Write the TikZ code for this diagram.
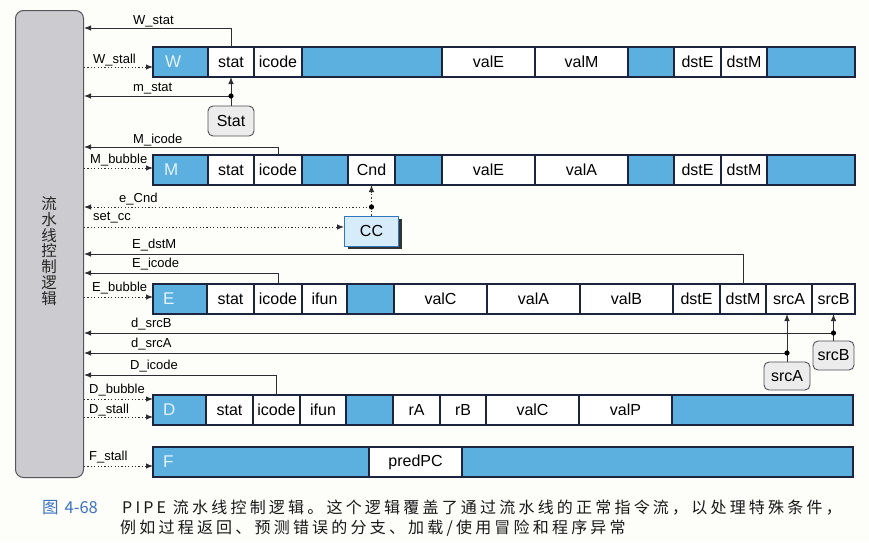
\documentclass[tikz,border=0pt]{standalone}
\usepackage{fontspec}
\setmainfont{Liberation Sans}
\newfontfamily\cjk{Noto Sans CJK SC}
\newfontfamily\cjkcap[LetterSpace=20]{Noto Sans CJK SC}
\usetikzlibrary{arrows.meta,shadows}

\definecolor{paper}{RGB}{253,253,250}
\definecolor{regblue}{RGB}{92,176,224}
\definecolor{regline}{RGB}{28,36,62}
\definecolor{tagwhite}{RGB}{228,243,251}
\definecolor{sigline}{RGB}{45,45,50}
\definecolor{ctlfill}{RGB}{204,203,207}
\definecolor{ctlline}{RGB}{85,85,90}
\definecolor{boxfill}{RGB}{236,236,236}
\definecolor{boxline}{RGB}{80,80,85}
\definecolor{ccfill}{RGB}{214,236,250}
\definecolor{ccline}{RGB}{50,118,190}
\definecolor{capblue}{RGB}{60,115,195}
\definecolor{captext}{RGB}{25,25,25}

% one field of a pipeline register: name, left x, right x, top y, style, text
\newcommand{\regf}[6]{\node[#5, minimum width={#3-#2}] (#1) at (#2,#4) {#6};}

\tikzset{
  reg/.style={draw=regline, line width=1.1pt, inner sep=0pt, outer sep=0pt,
    minimum height=30pt, anchor=north west, font=\fontsize{16}{18}\selectfont},
  blk/.style={reg, fill=regblue},
  fld/.style={reg, fill=white},
  tag/.style={anchor=west, inner sep=0pt, text=tagwhite, font=\fontsize{17}{18}\selectfont},
  sig/.style={draw=sigline, line width=1pt},
  dsig/.style={sig, dash pattern=on 1.2pt off 2.2pt},
  arr/.style={-{Latex[length=7pt,width=5.5pt]}},
  rarr/.style={{Latex[length=7pt,width=5.5pt]}-},
  lbl/.style={anchor=base west, inner sep=0pt, text=black, font=\fontsize{13}{14}\selectfont},
  srcbox/.style={draw=boxline, fill=boxfill, line width=0.9pt, rounded corners=5pt,
    inner sep=0pt, font=\fontsize{16}{18}\selectfont},
  ccbox/.style={draw=ccline, fill=ccfill, line width=0.9pt, inner sep=0pt,
    font=\fontsize{16}{18}\selectfont,
    drop shadow={shadow xshift=3pt, shadow yshift=-3pt, fill=black!80, opacity=1}},
  joint/.style={fill=black},
  captxt/.style={anchor=base west, inner sep=0pt, text=captext, font=\cjkcap\fontsize{16}{18}\selectfont},
}

\begin{document}
\begin{tikzpicture}[x=1pt, y=-1pt]
\fill[paper] (0,0) rectangle (869,542);
\useasboundingbox (0,0) rectangle (869,542);

% pipeline control logic block
\node[draw=ctlline, fill=ctlfill, line width=1pt, rounded corners=8pt,
  minimum width=68pt, minimum height=467pt, anchor=north west, inner sep=0pt] (ctl) at (15,10) {};
\node[align=center, inner sep=0pt, text=black!85, font=\cjk\fontsize{15.5}{15.8}\selectfont] (ctltext) at (49,251)
  {流\\水\\线\\控\\制\\逻\\辑};

% W register
\regf{Wl}{153}{208}{47}{blk}{}
\regf{Wstat}{208}{254}{47}{fld}{stat}
\regf{Wicode}{254}{302}{47}{fld}{icode}
\regf{Wb1}{302}{442}{47}{blk}{}
\regf{WvalE}{442}{535}{47}{fld}{valE}
\regf{WvalM}{535}{628}{47}{fld}{valM}
\regf{Wb2}{628}{674}{47}{blk}{}
\regf{WdstE}{674}{721}{47}{fld}{dstE}
\regf{WdstM}{721}{767}{47}{fld}{dstM}
\regf{Wb3}{767}{855}{47}{blk}{}
\node[tag] (Wtag) at (165,62) {W};

% M register
\regf{Ml}{153}{208}{155}{blk}{}
\regf{Mstat}{208}{254}{155}{fld}{stat}
\regf{Micode}{254}{302}{155}{fld}{icode}
\regf{Mb1}{302}{348}{155}{blk}{}
\regf{MCnd}{348}{395}{155}{fld}{Cnd}
\regf{Mb2}{395}{442}{155}{blk}{}
\regf{MvalE}{442}{535}{155}{fld}{valE}
\regf{MvalA}{535}{628}{155}{fld}{valA}
\regf{Mb3}{628}{674}{155}{blk}{}
\regf{MdstE}{674}{721}{155}{fld}{dstE}
\regf{MdstM}{721}{767}{155}{fld}{dstM}
\regf{Mb4}{767}{855}{155}{blk}{}
\node[tag] (Mtag) at (164,170) {M};

% E register
\regf{El}{153}{207}{284}{blk}{}
\regf{Estat}{207}{254}{284}{fld}{stat}
\regf{Eicode}{254}{302}{284}{fld}{icode}
\regf{Eifun}{302}{347}{284}{fld}{ifun}
\regf{Eb1}{347}{394}{284}{blk}{}
\regf{EvalC}{394}{487}{284}{fld}{valC}
\regf{EvalA}{487}{580}{284}{fld}{valA}
\regf{EvalB}{580}{673}{284}{fld}{valB}
\regf{EdstE}{673}{720}{284}{fld}{dstE}
\regf{EdstM}{720}{766}{284}{fld}{dstM}
\regf{EsrcA}{766}{812}{284}{fld}{srcA}
\regf{EsrcB}{812}{855}{284}{fld}{srcB}
\node[tag] (Etag) at (163,299) {E};

% D register
\regf{Dl}{153}{206}{395}{blk}{}
\regf{Dstat}{206}{253}{395}{fld}{stat}
\regf{Dicode}{253}{300}{395}{fld}{icode}
\regf{Difun}{300}{346}{395}{fld}{ifun}
\regf{Db1}{346}{393}{395}{blk}{}
\regf{DrA}{393}{440}{395}{fld}{rA}
\regf{DrB}{440}{486}{395}{fld}{rB}
\regf{DvalC}{486}{579}{395}{fld}{valC}
\regf{DvalP}{579}{672}{395}{fld}{valP}
\regf{Db2}{672}{853}{395}{blk}{}
\node[tag] (Dtag) at (163,410) {D};

% F register
\regf{Fl}{153}{369}{447}{blk}{}
\regf{FpredPC}{369}{462}{447}{fld}{predPC}
\regf{Fb}{462}{853}{447}{blk}{}
\node[tag] (Ftag) at (163,462) {F};

% status, condition-code and source-register blocks
\node[srcbox, minimum width=46pt, minimum height=30pt] (Statbox) at (231,121) {Stat};
\node[ccbox, minimum width=54pt, minimum height=30pt] (CC) at (371.5,231) {CC};
\node[srcbox, minimum width=41pt, minimum height=29pt] (srcBbox) at (833.5,355.5) {srcB};
\node[srcbox, minimum width=46pt, minimum height=28pt] (srcAbox) at (787,376) {srcA};

% junctions and signal levels
\coordinate (dStat) at (231,96);
\coordinate (dCnd) at (371.5,207);
\coordinate (dSrcB) at (833.5,333);
\coordinate (dSrcA) at (787,353);
\coordinate (yWstat) at (100,28);
\coordinate (yWstall) at (100,67);
\coordinate (yMicode) at (100,147);
\coordinate (yMbubble) at (100,168);
\coordinate (ySetcc) at (100,227);
\coordinate (yEdstM) at (100,254);
\coordinate (yEicode) at (100,273);
\coordinate (yEbubble) at (100,297);
\coordinate (yDicode) at (100,375);
\coordinate (yDbubble) at (100,399);
\coordinate (yDstall) at (100,417);
\coordinate (yFstall) at (100,466);

% W stage signals
\draw[sig, rarr] (ctl.east |- yWstat) -| (Wstat.north);
\draw[dsig, arr] (ctl.east |- yWstall) -- (Wl.west |- yWstall);
\draw[sig, arr] (Statbox.north) -- (Wstat.south);
\draw[sig, rarr] (ctl.east |- dStat) -- (dStat);
\fill[joint] (dStat) circle (2.6);

% M stage signals
\draw[sig, rarr] (ctl.east |- yMicode) -| (Micode.north);
\draw[dsig, arr] (ctl.east |- yMbubble) -- (Ml.west |- yMbubble);
\draw[dsig, arr] (CC.north) -- (MCnd.south);
\draw[dsig, rarr] (ctl.east |- dCnd) -- (dCnd);
\fill[joint] (dCnd) circle (2.6);
\draw[dsig, arr] (ctl.east |- ySetcc) -- (CC.west |- ySetcc);

% E stage signals
\draw[sig, rarr] (ctl.east |- yEdstM) -| (EdstM.north);
\draw[sig, rarr] (ctl.east |- yEicode) -| (Eicode.north);
\draw[dsig, arr] (ctl.east |- yEbubble) -- (El.west |- yEbubble);
\draw[sig, arr] (srcBbox.north) -- (EsrcB.south);
\draw[sig, rarr] (ctl.east |- dSrcB) -- (dSrcB);
\fill[joint] (dSrcB) circle (2.6);
\draw[sig, arr] (srcAbox.north) -- (srcAbox.north |- EsrcA.south);
\draw[sig, rarr] (ctl.east |- dSrcA) -- (dSrcA);
\fill[joint] (dSrcA) circle (2.6);

% D and F stage signals
\draw[sig, rarr] (ctl.east |- yDicode) -| (Dicode.north);
\draw[dsig, arr] (ctl.east |- yDbubble) -- (Dl.west |- yDbubble);
\draw[dsig, arr] (ctl.east |- yDstall) -- (Dl.west |- yDstall);
\draw[dsig, arr] (ctl.east |- yFstall) -- (Fl.west |- yFstall);

% signal names
\node[lbl] (tWstat) at (133,24) {W\_stat};
\node[lbl] (tWstall) at (93,63) {W\_stall};
\node[lbl] (tmstat) at (133,91) {m\_stat};
\node[lbl] (tMicode) at (133,143) {M\_icode};
\node[lbl] (tMbubble) at (90,163) {M\_bubble};
\node[lbl] (teCnd) at (119,202) {e\_Cnd};
\node[lbl] (tsetcc) at (93,220) {set\_cc};
\node[lbl] (tEdstM) at (132,248) {E\_dstM};
\node[lbl] (tEicode) at (132,267) {E\_icode};
\node[lbl] (tEbubble) at (92,291) {E\_bubble};
\node[lbl] (tdsrcB) at (131,327) {d\_srcB};
\node[lbl] (tdsrcA) at (131,347) {d\_srcA};
\node[lbl] (tDicode) at (130,369) {D\_icode};
\node[lbl] (tDbubble) at (89,393) {D\_bubble};
\node[lbl] (tDstall) at (89,413) {D\_stall};
\node[lbl] (tFstall) at (89,460) {F\_stall};

% caption
\node[anchor=base west, inner sep=0pt, text=capblue, font=\cjk\fontsize{16.5}{18}\selectfont] (capnum) at (42,513)
  {图\hspace{6pt}4-68};
\node[captxt] (cap1) at (122,513)
  {PIPE 流水线控制逻辑。这个逻辑覆盖了通过流水线的正常指令流，以处理特殊条件，};
\node[captxt] (cap2) at (120,533)
  {例如过程返回、预测错误的分支、加载/使用冒险和程序异常};
\end{tikzpicture}
\end{document}
